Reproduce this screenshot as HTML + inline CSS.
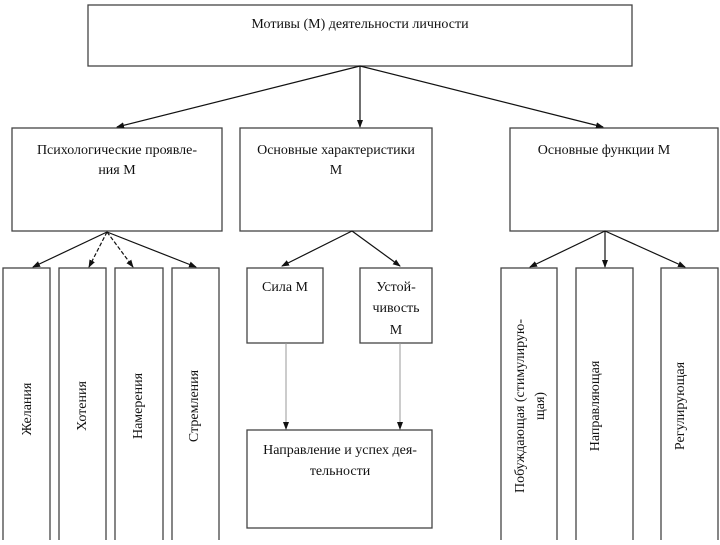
<!DOCTYPE html><html><head><meta charset="utf-8"><style>body{margin:0;background:#fff}svg text{font-family:"Liberation Serif",serif;font-size:14px;fill:#111}</style></head><body>
<svg width="720" height="540" viewBox="0 0 720 540">
<defs><marker id="a" markerWidth="8" markerHeight="8" refX="7" refY="4" orient="auto" markerUnits="userSpaceOnUse"><path d="M0,1 L8,4 L0,7z" fill="#111"/></marker></defs>
<g fill="none" stroke="#444" stroke-width="1.3">
<rect x="88" y="5" width="544" height="61"/>
<rect x="12" y="128" width="210" height="103"/>
<rect x="240" y="128" width="192" height="103"/>
<rect x="510" y="128" width="208" height="103"/>
<rect x="3" y="268" width="47" height="280"/>
<rect x="59" y="268" width="47" height="280"/>
<rect x="115" y="268" width="48" height="280"/>
<rect x="172" y="268" width="47" height="280"/>
<rect x="247" y="268" width="76" height="75"/>
<rect x="360" y="268" width="72" height="75"/>
<rect x="247" y="430" width="185" height="98"/>
<rect x="501" y="268" width="56" height="280"/>
<rect x="576" y="268" width="57" height="280"/>
<rect x="661" y="268" width="57" height="280"/>
</g>
<g stroke="#111" stroke-width="1.2" marker-end="url(#a)">
<line x1="360" y1="66" x2="117" y2="127"/>
<line x1="360" y1="66" x2="360" y2="127"/>
<line x1="360" y1="66" x2="603" y2="127"/>
<line x1="107" y1="232" x2="33" y2="267"/>
<line x1="107" y1="232" x2="89" y2="267" stroke-dasharray="4,2"/>
<line x1="107" y1="232" x2="133" y2="267" stroke-dasharray="4,2"/>
<line x1="107" y1="232" x2="196" y2="267"/>
<line x1="352" y1="231" x2="282" y2="266"/>
<line x1="352" y1="231" x2="400" y2="266"/>
<line x1="605" y1="231" x2="530" y2="267"/>
<line x1="605" y1="231" x2="605" y2="267"/>
<line x1="605" y1="231" x2="685" y2="267"/>
<line x1="286" y1="343" x2="286" y2="429" stroke="#999" stroke-width="1"/>
<line x1="400" y1="343" x2="400" y2="429" stroke="#999" stroke-width="1"/>
</g>
<text x="360" y="28" text-anchor="middle">Мотивы (М) деятельности личности</text>
<text x="117" y="154" text-anchor="middle">Психологические проявле-</text>
<text x="117" y="174" text-anchor="middle">ния М</text>
<text x="336" y="154" text-anchor="middle">Основные характеристики</text>
<text x="336" y="174" text-anchor="middle">М</text>
<text x="604" y="154" text-anchor="middle">Основные функции М</text>
<text x="285" y="291" text-anchor="middle">Сила М</text>
<text x="396" y="291" text-anchor="middle">Устой-</text>
<text x="396" y="312" text-anchor="middle">чивость</text>
<text x="396" y="334" text-anchor="middle">М</text>
<text x="340" y="454" text-anchor="middle">Направление и успех дея-</text>
<text x="340" y="475" text-anchor="middle">тельности</text>
<g text-anchor="middle">
<text transform="translate(31,409) rotate(-90)">Желания</text>
<text transform="translate(86,406) rotate(-90)">Хотения</text>
<text transform="translate(142,406) rotate(-90)">Намерения</text>
<text transform="translate(198,406) rotate(-90)">Стремления</text>
<text transform="translate(524,406) rotate(-90)">Побуждающая (стимулирую-</text>
<text transform="translate(544,406) rotate(-90)">щая)</text>
<text transform="translate(599,406) rotate(-90)">Направляющая</text>
<text transform="translate(684,406) rotate(-90)">Регулирующая</text>
</g>
</svg></body></html>
